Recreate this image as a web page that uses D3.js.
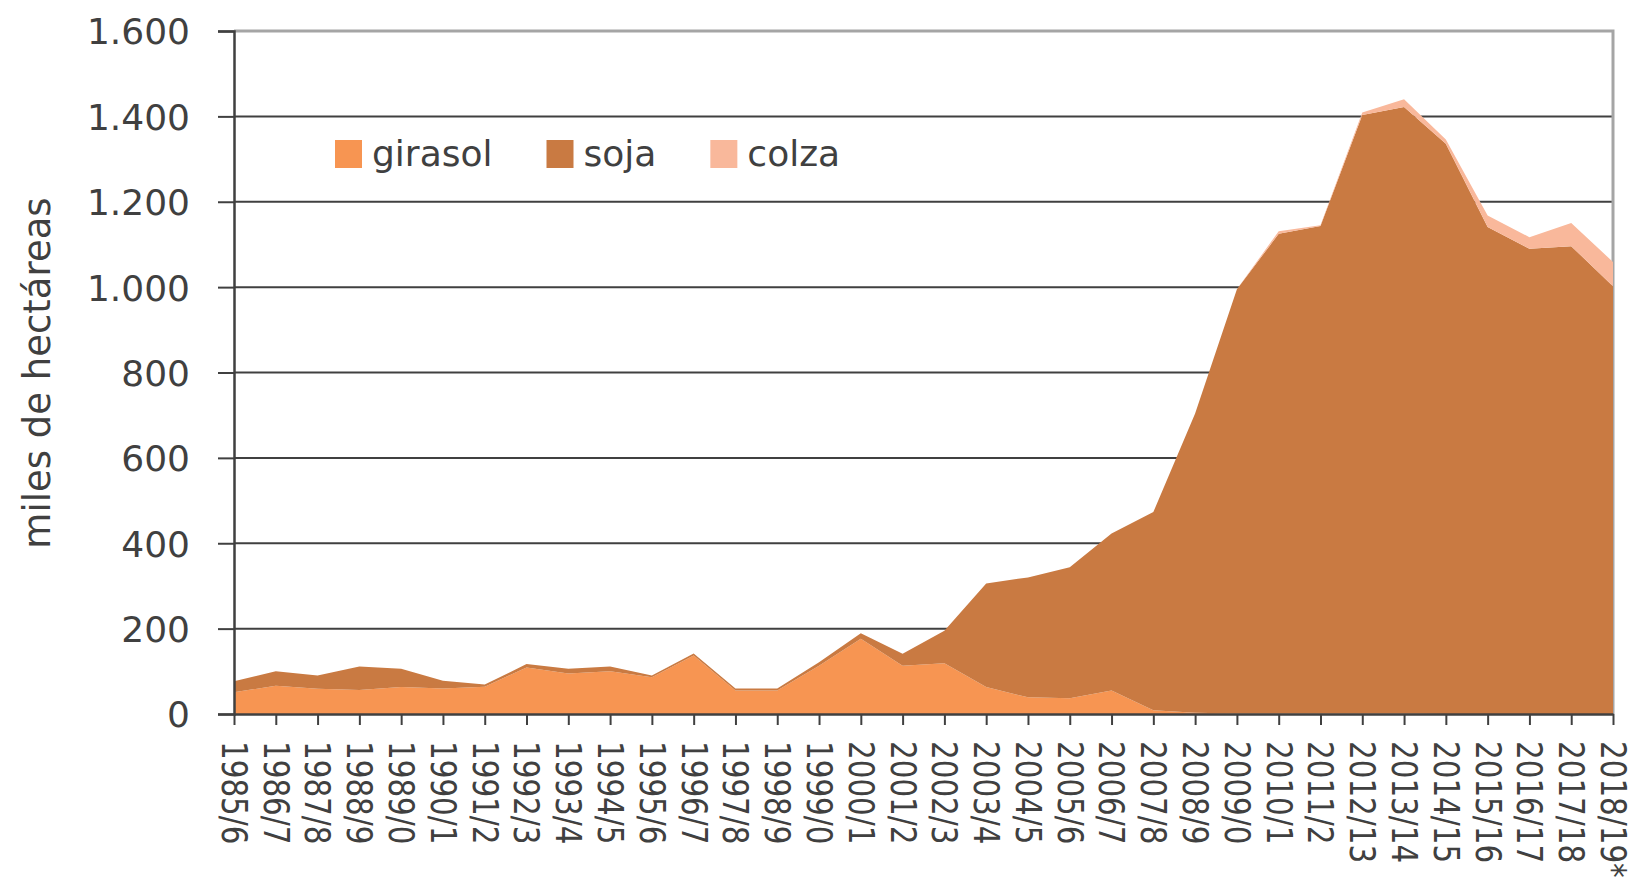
<!DOCTYPE html>
<html lang="es">
<head>
<meta charset="utf-8">
<title>Superficie girasol, soja, colza</title>
<script src="https://d3js.org/d3.v7.min.js"></script>
<style>
  body { margin: 0; background: #fff; }
  text { font-family: "DejaVu Sans", sans-serif; fill: #404040; }
  .tick line { stroke: #404040; stroke-width: 2px; }
  .domain { stroke: #404040; stroke-width: 2.5px; }
</style>
</head>
<body>
<script>
// campañas
var campaigns = ["1985/6","1986/7","1987/8","1988/9","1989/0","1990/1","1991/2","1992/3","1993/4","1994/5",
  "1995/6","1996/7","1997/8","1998/9","1999/0","2000/1","2001/2","2002/3","2003/4","2004/5",
  "2005/6","2006/7","2007/8","2008/9","2009/0","2010/1","2011/2","2012/13","2013/14","2014/15",
  "2015/16","2016/17","2017/18","2018/19*"];

// miles de hectáreas
var girasol = [51,66,59,56,63,60,64,109,95,100,86,137,55,55,113,176,113,119,63,39,37,55,9,3,1,1,1,1,1,0,0,0,0,0];
var soja    = [26,34,31,55,43,18,5,8,11,11,4,5,5,5,8,13,28,76,243,281,307,368,464,701,994,1124,1142,1402,1421,1336,1141,1090,1096,1002];
var colza   = [0,0,0,0,0,0,0,0,0,0,0,0,0,0,0,0,0,0,0,0,0,0,0,0,0,6,2,6,18,10,27,27,54,57];

var seriesNames = ["girasol", "soja", "colza"];
var seriesColors = ["#f79552", "#c97a42", "#f9b89b"];
var yTicks = [0,200,400,600,800,1000,1200,1400,1600];

var W = 1631, H = 879;
var margin = {top: 31, right: 18, bottom: 165, left: 234};
var w = W - margin.left - margin.right;
var h = H - margin.top - margin.bottom;

var rows = campaigns.map(function(c, i) {
  return {camp: c, girasol: girasol[i], soja: soja[i], colza: colza[i]};
});

var stack = d3.stack().keys(seriesNames);
var layers = stack(rows);

var x = d3.scalePoint().domain(campaigns).range([0, w]);
var y = d3.scaleLinear().domain([0, 1600]).range([h, 0]);

var es = d3.formatLocale({decimal: ",", thousands: ".", grouping: [3], currency: ["", "€"]});
var fmt = es.format(",d");

var svg = d3.select("body").append("svg")
  .attr("width", W)
  .attr("height", H);

var g = svg.append("g").attr("transform", "translate(" + margin.left + "," + margin.top + ")");

// gridlines
g.selectAll("line.grid")
  .data(yTicks.slice(1, -1))
  .enter().append("line")
  .attr("class", "grid")
  .attr("x1", 0).attr("x2", w)
  .attr("y1", function(d) { return y(d); })
  .attr("y2", function(d) { return y(d); })
  .attr("stroke", "#404040")
  .attr("stroke-width", 2);

// top + right border
g.append("path")
  .attr("d", "M0," + y(1600) + "H" + w + "V" + h)
  .attr("fill", "none")
  .attr("stroke", "#a5a5a5")
  .attr("stroke-width", 3);

var area = d3.area()
  .x(function(d) { return x(d.data.camp); })
  .y0(function(d) { return y(d[0]); })
  .y1(function(d) { return y(d[1]); });

g.selectAll("path.layer")
  .data(layers)
  .enter().append("path")
  .attr("class", "layer")
  .attr("d", area)
  .attr("fill", function(d, i) { return seriesColors[i]; });

// y axis
var yAxis = g.append("g")
  .call(d3.axisLeft(y).tickValues(yTicks).tickSize(16).tickPadding(28).tickFormat(fmt));
yAxis.selectAll("text").style("font-size", "36px").attr("dy", "0.36em");

// x axis - labels read top to bottom, a bit condensed like the original
var xAxis = g.append("g")
  .attr("transform", "translate(0," + h + ")")
  .call(d3.axisBottom(x).tickSize(11).tickSizeOuter(0).tickPadding(0));
xAxis.selectAll("text")
  .style("font-size", "35px")
  .style("text-anchor", "start")
  .attr("y", 0)
  .attr("x", 0)
  .attr("dy", "0.36em")
  .attr("transform", "translate(0,27) rotate(90) scale(0.84,1)");

// y title
svg.append("text")
  .attr("transform", "translate(50,373) rotate(-90)")
  .attr("text-anchor", "middle")
  .style("font-size", "37px")
  .text("miles de hectáreas");

// legend
var legend = svg.append("g").attr("transform", "translate(335,140)");
var lx = 0;
seriesNames.forEach(function(name, i) {
  var item = legend.append("g").attr("transform", "translate(" + lx + ",0)");
  item.append("rect")
    .attr("width", 27).attr("height", 28)
    .attr("fill", seriesColors[i]);
  var t = item.append("text")
    .attr("x", 37).attr("y", 26)
    .style("font-size", "36px")
    .text(name);
  lx += 37 + t.node().getComputedTextLength() + 54;
});
</script>
</body>
</html>
